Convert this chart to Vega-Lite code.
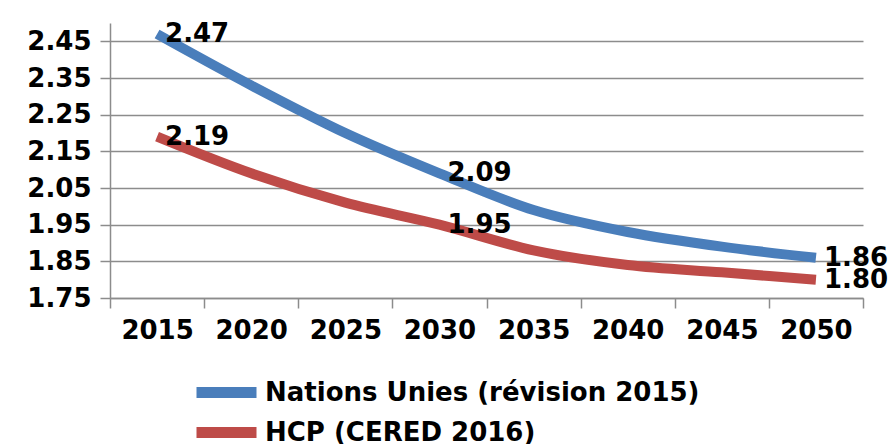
{
  "$schema": "https://vega.github.io/schema/vega-lite/v6.json",
  "autosize": {"type": "none"},
  "width": 753,
  "height": 275,
  "padding": {"left": 110, "top": 23, "right": 26, "bottom": 146},
  "background": "white",
  "config": {
    "view": {"stroke": null},
    "font": "DejaVu Sans"
  },
  "data": {
    "values": [
      {"series": "Nations Unies (révision 2015)", "year": "2015", "value": 2.47},
      {"series": "Nations Unies (révision 2015)", "year": "2020", "value": 2.33},
      {"series": "Nations Unies (révision 2015)", "year": "2025", "value": 2.20},
      {"series": "Nations Unies (révision 2015)", "year": "2030", "value": 2.09},
      {"series": "Nations Unies (révision 2015)", "year": "2035", "value": 1.99},
      {"series": "Nations Unies (révision 2015)", "year": "2040", "value": 1.93},
      {"series": "Nations Unies (révision 2015)", "year": "2045", "value": 1.89},
      {"series": "Nations Unies (révision 2015)", "year": "2050", "value": 1.86},
      {"series": "HCP (CERED 2016)", "year": "2015", "value": 2.19},
      {"series": "HCP (CERED 2016)", "year": "2020", "value": 2.09},
      {"series": "HCP (CERED 2016)", "year": "2025", "value": 2.01},
      {"series": "HCP (CERED 2016)", "year": "2030", "value": 1.95},
      {"series": "HCP (CERED 2016)", "year": "2035", "value": 1.88},
      {"series": "HCP (CERED 2016)", "year": "2040", "value": 1.84},
      {"series": "HCP (CERED 2016)", "year": "2045", "value": 1.82},
      {"series": "HCP (CERED 2016)", "year": "2050", "value": 1.80}
    ]
  },
  "encoding": {
    "x": {
      "field": "year",
      "type": "ordinal",
      "bandPosition": 0.5,
      "scale": {"type": "band", "paddingInner": 0, "paddingOuter": 0},
      "axis": {
        "title": null,
        "tickBand": "extent",
        "labelAngle": 0,
        "labelFont": "DejaVu Sans",
        "labelFontWeight": "bold",
        "labelFontSize": 26,
        "labelColor": "black",
        "labelPadding": 9,
        "tickSize": 10,
        "tickColor": "#8c8c8c",
        "tickWidth": 1.5,
        "domainColor": "#8c8c8c",
        "domainWidth": 1.5,
        "grid": false
      }
    },
    "y": {
      "field": "value",
      "type": "quantitative",
      "scale": {"domain": [1.75, 2.5], "nice": false, "zero": false},
      "axis": {
        "title": null,
        "values": [1.75, 1.85, 1.95, 2.05, 2.15, 2.25, 2.35, 2.45],
        "format": ".2f",
        "labelFont": "DejaVu Sans",
        "labelFontWeight": "bold",
        "labelFontSize": 26,
        "labelColor": "black",
        "labelPadding": 9,
        "tickSize": 10,
        "tickColor": "#8c8c8c",
        "tickWidth": 1.5,
        "domainColor": "#8c8c8c",
        "domainWidth": 1.5,
        "grid": true,
        "gridColor": "#8c8c8c",
        "gridWidth": 1.5,
        "gridOpacity": 1
      }
    }
  },
  "layer": [
    {
      "mark": {"type": "line", "interpolate": "monotone", "strokeWidth": 10, "strokeCap": "butt"},
      "encoding": {
        "color": {
          "field": "series",
          "type": "nominal",
          "sort": ["Nations Unies (révision 2015)", "HCP (CERED 2016)"],
          "scale": {
            "domain": ["Nations Unies (révision 2015)", "HCP (CERED 2016)"],
            "range": ["#4A7EBB", "#BE4B48"]
          },
          "legend": {
            "title": null,
            "orient": "none",
            "legendX": 101,
            "legendY": 354,
            "padding": 0,
            "direction": "vertical",
            "symbolType": "M-3,0H3",
            "symbolSize": 400,
            "symbolStrokeWidth": 11,
            "labelFont": "DejaVu Sans",
            "labelFontWeight": "bold",
            "labelFontSize": 26,
            "labelColor": "black",
            "labelOffset": 23,
            "rowPadding": -5,
            "labelLimit": 600
          }
        }
      }
    },
    {
      "transform": [{"filter": {"field": "year", "oneOf": ["2015", "2030", "2050"]}}],
      "mark": {
        "type": "text",
        "align": "left",
        "baseline": "middle",
        "dx": 8,
        "font": "DejaVu Sans",
        "fontWeight": "bold",
        "fontSize": 26,
        "color": "black"
      },
      "encoding": {
        "text": {"field": "value", "type": "quantitative", "format": ".2f"}
      }
    }
  ]
}
